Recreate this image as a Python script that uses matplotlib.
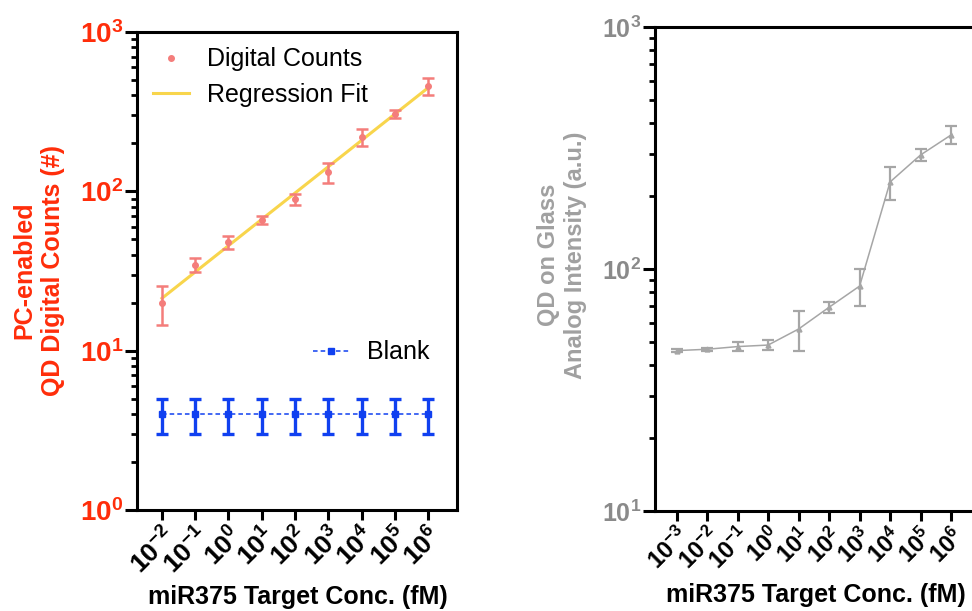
import numpy as np
import matplotlib
matplotlib.use('Agg')
import matplotlib.pyplot as plt
from matplotlib.lines import Line2D
from matplotlib.ticker import NullFormatter

plt.rcParams['font.family'] = ['Liberation Sans', 'DejaVu Sans']
plt.rcParams['mathtext.fontset'] = 'custom'
plt.rcParams['mathtext.rm'] = 'Liberation Sans'
plt.rcParams['mathtext.bf'] = 'Liberation Sans:bold'

# PC-enabled digital counts vs target concentration
digital_exps = [-2, -1, 0, 1, 2, 3, 4, 5, 6]
digital_counts = [20, 34.5, 48, 66.5, 89, 132, 220, 307, 458]
digital_err = [5.5, 3.5, 4.5, 4, 7.5, 19, 27, 19, 55]
blank_counts = [4, 4, 4, 4, 4, 4, 4, 4, 4]
blank_err = [1, 1, 1, 1, 1, 1, 1, 1, 1]

# QD on glass analog intensity
glass_exps = [-3, -2, -1, 0, 1, 2, 3, 4, 5, 6]
glass_intensity = [46, 46.6, 47.8, 48.5, 56.5, 69.5, 85, 229, 296, 358]
glass_err = [0.6, 0.6, 2, 2.3, 10.5, 3.5, 15, 36, 16.5, 31]

RED = '#ff2d0a'
PINK = '#f47d7b'
YELLOW = '#f8d54c'
BLUE = '#1040f0'
GRAY = '#a6a6a6'


def exp_labels(exps):
    return [r'$\mathbf{10^{%d}}$' % e for e in exps]


def style_axes(ax, ylab_color, ylab_size):
    for sp in ax.spines.values():
        sp.set_linewidth(2.2)
    ax.tick_params(axis='y', which='major', length=8.5, width=2.2, direction='out',
                   pad=1.5, labelsize=ylab_size, labelcolor=ylab_color)
    ax.tick_params(axis='y', which='minor', length=4.3, width=2.0, direction='out')
    ax.tick_params(axis='x', which='major', length=7, width=2.2, direction='out',
                   pad=2)
    ax.yaxis.set_minor_formatter(NullFormatter())


fig = plt.figure(figsize=(9.72, 6.11), dpi=100)

# left panel
ax1 = fig.add_axes([137 / 972, 1 - 510 / 611, 320 / 972, 478 / 611])
x1 = np.arange(len(digital_exps))
ax1.set_yscale('log')
fit = np.polyfit(x1, np.log10(digital_counts), 1)
ax1.plot(x1, 10 ** np.polyval(fit, x1), color=YELLOW, lw=2.2, zorder=2)
ax1.errorbar(x1, digital_counts, yerr=digital_err, fmt='o', color=PINK, ms=4,
             elinewidth=1.8, capsize=4, capthick=1.8, zorder=3)
ax1.errorbar(x1, blank_counts, yerr=blank_err, fmt='s--', color=BLUE, ms=4,
             lw=1.1, dashes=(3, 2), elinewidth=2.4, capsize=4.5, capthick=2.4,
             zorder=3)
ax1.set_ylim(1, 1000)
ax1.set_xlim(-0.75, 8.87)
ax1.set_yticks([1, 10, 100, 1000])
ax1.set_yticklabels(exp_labels([0, 1, 2, 3]))
ax1.set_xticks(x1)
ax1.set_xticklabels(exp_labels(digital_exps), rotation=45, ha='right',
                    rotation_mode='anchor', fontsize=19)
style_axes(ax1, RED, 20)

leg1 = ax1.legend(handles=[Line2D([], [], ls='none', marker='o', ms=4, color=PINK),
                           Line2D([], [], color=YELLOW, lw=2.2)],
                  labels=['Digital Counts', 'Regression Fit'],
                  loc='upper left', bbox_to_anchor=(0.05, 0.968), frameon=False,
                  fontsize=18, borderpad=0, borderaxespad=0, handlelength=1.45,
                  handletextpad=0.7, labelspacing=0.45)
ax1.add_artist(leg1)
ax1.legend(handles=[Line2D([], [], color=BLUE, ls='--', dashes=(3, 2), lw=1.1,
                           marker='s', ms=4)],
           labels=['Blank'], loc='center left', bbox_to_anchor=(0.55, 0.33),
           frameon=False, fontsize=18, borderpad=0, borderaxespad=0,
           handlelength=1.45, handletextpad=0.7)

fig.text(298 / 972, 1 - 597 / 611, 'miR375 Target Conc. (fM)', ha='center',
         va='center', fontsize=18, fontweight='bold')
fig.text(39 / 972, 1 - 270 / 611, 'PC-enabled\nQD Digital Counts (#)', rotation=90,
         ha='center', va='center', ma='center', fontsize=18, fontweight='bold',
         color=RED, linespacing=1.25)

# right panel
ax2 = fig.add_axes([655 / 972, 1 - 511 / 611, 322 / 972, 484 / 611])
x2 = np.arange(len(glass_exps))
ax2.set_yscale('log')
ax2.errorbar(x2, glass_intensity, yerr=glass_err, fmt='^-', color=GRAY, ms=3.5,
             lw=1.1, elinewidth=1.6, capsize=4, capthick=1.6)
ax2.set_ylim(10, 1000)
ax2.set_xlim(-0.71, 9.85)
ax2.set_yticks([10, 100, 1000])
ax2.set_yticklabels(exp_labels([1, 2, 3]))
ax2.set_xticks(x2)
ax2.set_xticklabels(exp_labels(glass_exps), rotation=45, ha='right',
                    rotation_mode='anchor', fontsize=17)
style_axes(ax2, '#8a8a8a', 18)

fig.text(816 / 972, 1 - 595 / 611, 'miR375 Target Conc. (fM)', ha='center',
         va='center', fontsize=18, fontweight='bold')
fig.text(562 / 972, 1 - 255 / 611, 'QD on Glass\nAnalog Intensity (a.u.)', rotation=90,
         ha='center', va='center', ma='center', fontsize=17, fontweight='bold',
         color='#a0a0a0', linespacing=1.2)

fig.savefig('out.png', dpi=100)
